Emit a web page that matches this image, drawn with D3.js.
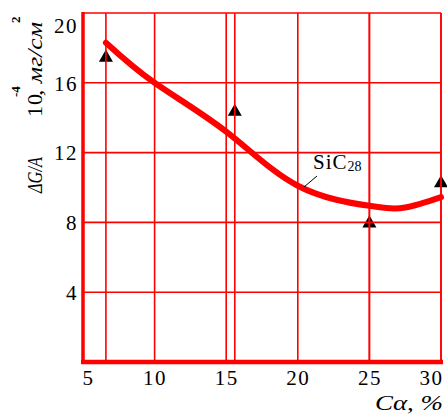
<!DOCTYPE html>
<html>
<head>
<meta charset="utf-8">
<script src="https://cdn.jsdelivr.net/npm/d3@7"></script>
<style>
  body { margin: 0; background: #fff; }
  svg { display: block; }
  svg text { font-family: 'Liberation Serif', 'Times New Roman', serif; }
</style>
</head>
<body>
<svg width="447" height="415"></svg>
<script>
// data
const xTicks = [5, 10, 15, 20, 25, 30]
const yTicks = [4, 8, 12, 16, 20]
const pointX = [6.6, 15.6, 25, 30]
const pointY = [17.5, 14.4, 8.0, 10.3]
const curveX = [6.6, 10, 15, 20, 25, 27.5, 30]
const curveY = [18.3, 16.0, 13.2, 10.1, 8.95, 8.85, 9.45]
const seriesName = ['SiC', '28']

const width = 447
const height = 415
const margin = { top: 13, right: 6, bottom: 53, left: 83 }
const red = '#ff0000'

const svg = d3.select('svg')

const xScale = d3.scaleLinear([5, 30], [margin.left, width - margin.right])
const yScale = d3.scaleLinear([0, 20], [height - margin.bottom, margin.top])
const x0 = xScale(5), x1 = xScale(30), y0 = yScale(0), y1 = yScale(20)

// markers (drawn under the grid so the red lines cross them)
const points = pointX.map((x, i) => ({ x, y: pointY[i] }))
svg.append('g')
  .selectAll('path')
  .data(points)
  .join('path')
  .attr('transform', d => `translate(${ xScale(d.x) },${ yScale(d.y) + 1 })`)
  .attr('d', d3.symbol(d3.symbolTriangle, 85))
  .attr('fill', '#000')

// grid
const grid = svg.append('g').attr('stroke', red).attr('stroke-width', 1.6)
grid.selectAll('.vx')
  .data([...xTicks, ...pointX])
  .join('line')
  .attr('x1', d => xScale(d)).attr('x2', d => xScale(d))
  .attr('y1', y1).attr('y2', y0)
grid.selectAll('.hy')
  .data(yTicks)
  .join('line')
  .attr('x1', x0).attr('x2', x1)
  .attr('y1', d => yScale(d)).attr('y2', d => yScale(d))

// thick axes
svg.append('line')
  .attr('x1', x0).attr('x2', x0).attr('y1', y1 - 1).attr('y2', y0)
  .attr('stroke', red).attr('stroke-width', 3.5)
svg.append('line')
  .attr('x1', x0 - 2).attr('x2', x1 + 2).attr('y1', y0).attr('y2', y0)
  .attr('stroke', red).attr('stroke-width', 4.5)

// curve
const line = d3.line()
  .x(d => xScale(d[0]))
  .y(d => yScale(d[1]))
  .curve(d3.curveNatural)
svg.append('path')
  .datum(curveX.map((x, i) => [x, curveY[i]]))
  .attr('d', line)
  .attr('fill', 'none')
  .attr('stroke', red)
  .attr('stroke-width', 6)
  .attr('stroke-linecap', 'round')

// x axis labels
const xAxis = d3.axisBottom(xScale).tickValues(xTicks).tickSize(0).tickPadding(8)
const xAxisEl = svg.append('g')
  .attr('transform', `translate(0,${ y0 })`)
  .call(xAxis)
  .attr('font-family', null)
xAxisEl.select('.domain').remove()
xAxisEl.selectAll('.tick text')
  .attr('font-size', 21)
  .attr('letter-spacing', 1.5)
  .attr('fill', '#000')
  .attr('text-anchor', d => d === 5 ? 'start' : d === 30 ? 'end' : 'middle')
  .attr('dx', d => d === 5 ? -1 : d === 30 ? 2 : 0)

// y axis labels
const yAxis = d3.axisLeft(yScale).tickValues(yTicks).tickSize(0).tickPadding(5)
const yAxisEl = svg.append('g')
  .attr('transform', `translate(${ x0 },0)`)
  .call(yAxis)
  .attr('font-family', null)
yAxisEl.select('.domain').remove()
yAxisEl.selectAll('.tick text')
  .attr('font-size', 21)
  .attr('letter-spacing', 1.5)
  .attr('fill', '#000')
  .attr('dy', d => d === 20 ? '0.95em' : '0.35em')

// axis titles
const yTitle = svg.append('g').attr('transform', 'translate(42,0) rotate(-90)')
  .attr('font-style', 'italic')
  .attr('font-size', 22)
yTitle.append('text').attr('x', -193).attr('y', 0)
  .attr('textLength', 36).attr('lengthAdjust', 'spacingAndGlyphs').text('ΔG/A')
yTitle.append('text').attr('x', -117).attr('y', 0).attr('font-style', 'normal')
  .attr('letter-spacing', 1).text('10')
yTitle.append('text').attr('x', -97).attr('y', -22).attr('font-size', 13)
  .attr('font-style', 'normal').attr('font-weight', 'bold').text('-4')
yTitle.append('text').attr('x', -96).attr('y', 0)
  .attr('textLength', 74).attr('lengthAdjust', 'spacingAndGlyphs').text(', мг/см')
yTitle.append('text').attr('x', -23).attr('y', -22).attr('font-size', 13)
  .attr('font-style', 'normal').attr('font-weight', 'bold').text('2')

svg.append('text')
  .attr('x', 375).attr('y', 410)
  .attr('font-style', 'italic')
  .attr('font-size', 22)
  .attr('textLength', 68)
  .attr('lengthAdjust', 'spacingAndGlyphs')
  .text('Cα, %')

// series label
const lbl = svg.append('text')
  .attr('x', 313).attr('y', 169)
  .attr('font-size', 21)
lbl.append('tspan').attr('letter-spacing', 1).text(seriesName[0])
lbl.append('tspan').attr('font-size', 14).attr('dy', 2).text(seriesName[1])
svg.append('line')
  .attr('x1', 317).attr('y1', 176).attr('x2', 304).attr('y2', 187)
  .attr('stroke', '#000').attr('stroke-width', 1)
</script>
</body>
</html>
